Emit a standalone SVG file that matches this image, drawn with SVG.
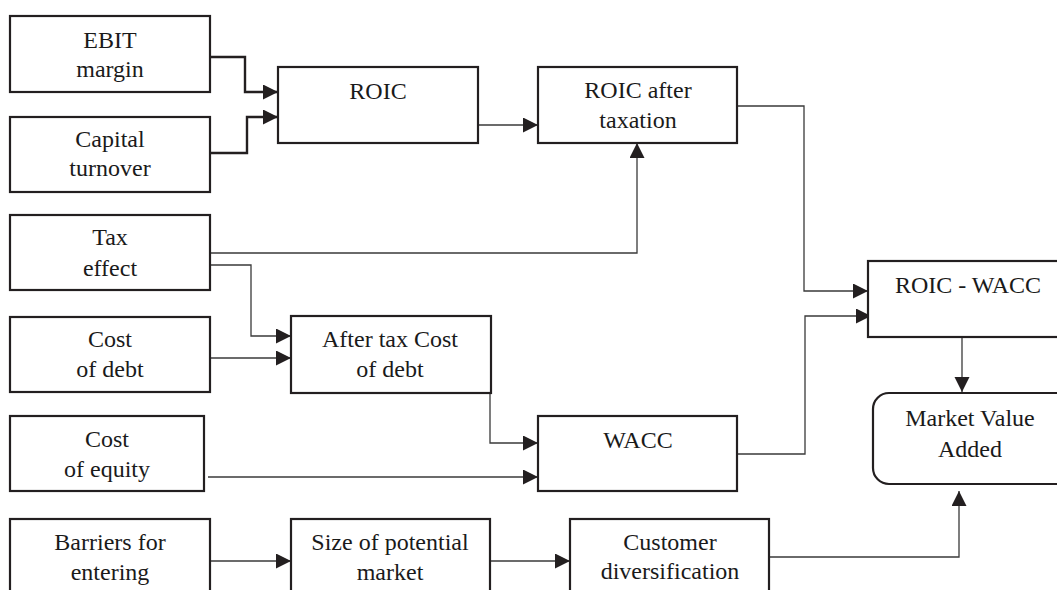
<svg xmlns="http://www.w3.org/2000/svg" width="1057" height="590" viewBox="0 0 1057 590">
<style>
.box{fill:#fff;stroke:#231f20;stroke-width:2.2}
.t{font-family:'Liberation Serif','Times New Roman',Tinos,serif;font-size:24px;fill:#1a1a1a;text-anchor:middle}
.c{fill:none;stroke:#3a3a3a;stroke-width:1.3}
.ct{fill:none;stroke:#231f20;stroke-width:2.4}
</style>
<defs>
<marker id="ah" markerUnits="userSpaceOnUse" markerWidth="16" markerHeight="16" refX="15" refY="7.5" orient="auto">
<path d="M0,0 L15,7.5 L0,15 z" fill="#231f20"/>
</marker>
</defs>
<rect width="1057" height="590" fill="#fff"/>
<g id="connectors">
<path class="ct" d="M210,57 H245 V92 H278" marker-end="url(#ah)"/>
<path class="ct" d="M210,153 H247 V117 H278" marker-end="url(#ah)"/>
<path class="c" d="M478,125 H538" marker-end="url(#ah)"/>
<path class="c" d="M210,253 H637 V143" marker-end="url(#ah)"/>
<path class="c" d="M210,265 H251 V336 H291" marker-end="url(#ah)"/>
<path class="c" d="M210,358 H291" marker-end="url(#ah)"/>
<path class="c" d="M490,393 V443 H538" marker-end="url(#ah)"/>
<path class="c" d="M208,477 H538" marker-end="url(#ah)"/>
<path class="c" d="M737,106 H804 V291 H868" marker-end="url(#ah)"/>
<path class="c" d="M737,454 H805 V316 H871" marker-end="url(#ah)"/>
<path class="c" d="M962,337 V392" marker-end="url(#ah)"/>
<path class="c" d="M210,561 H291" marker-end="url(#ah)"/>
<path class="c" d="M490,561 H570" marker-end="url(#ah)"/>
<path class="c" d="M769,557 H959 V491" marker-end="url(#ah)"/>
</g>
<g id="ebit"><rect class="box" x="10" y="16" width="200" height="76"/><text class="t" x="110" y="48">EBIT</text><text class="t" x="110" y="77">margin</text></g>
<g id="capital"><rect class="box" x="10" y="117" width="200" height="75"/><text class="t" x="110" y="147">Capital</text><text class="t" x="110" y="176">turnover</text></g>
<g id="roic"><rect class="box" x="278" y="67" width="200" height="76"/><text class="t" x="378" y="99">ROIC</text></g>
<g id="roic-after"><rect class="box" x="538" y="67" width="199" height="76"/><text class="t" x="638" y="98">ROIC after</text><text class="t" x="638" y="128">taxation</text></g>
<g id="tax"><rect class="box" x="10" y="215" width="200" height="75"/><text class="t" x="110" y="245">Tax</text><text class="t" x="110" y="276">effect</text></g>
<g id="cost-debt"><rect class="box" x="10" y="317" width="200" height="75"/><text class="t" x="110" y="347">Cost</text><text class="t" x="110" y="377">of debt</text></g>
<g id="after-tax"><rect class="box" x="291" y="316" width="200" height="77"/><text class="t" x="390" y="347">After tax Cost</text><text class="t" x="390" y="377">of debt</text></g>
<g id="cost-equity"><rect class="box" x="10" y="416" width="194" height="75"/><text class="t" x="107" y="447">Cost</text><text class="t" x="107" y="477">of equity</text></g>
<g id="wacc"><rect class="box" x="538" y="416" width="199" height="75"/><text class="t" x="638" y="448">WACC</text></g>
<g id="roic-wacc"><rect class="box" x="868" y="261" width="200" height="76"/><text class="t" x="968" y="293">ROIC - WACC</text></g>
<g id="mva"><rect class="box" x="873" y="393" width="200" height="91" rx="16" ry="16"/><text class="t" x="970" y="426">Market Value</text><text class="t" x="970" y="457">Added</text></g>
<g id="barriers"><rect class="box" x="10" y="519" width="200" height="80"/><text class="t" x="110" y="550">Barriers for</text><text class="t" x="110" y="580">entering</text></g>
<g id="size"><rect class="box" x="291" y="519" width="199" height="80"/><text class="t" x="390" y="550">Size of potential</text><text class="t" x="390" y="580">market</text></g>
<g id="customer"><rect class="box" x="570" y="519" width="199" height="80"/><text class="t" x="670" y="550">Customer</text><text class="t" x="670" y="579">diversification</text></g>
</svg>
